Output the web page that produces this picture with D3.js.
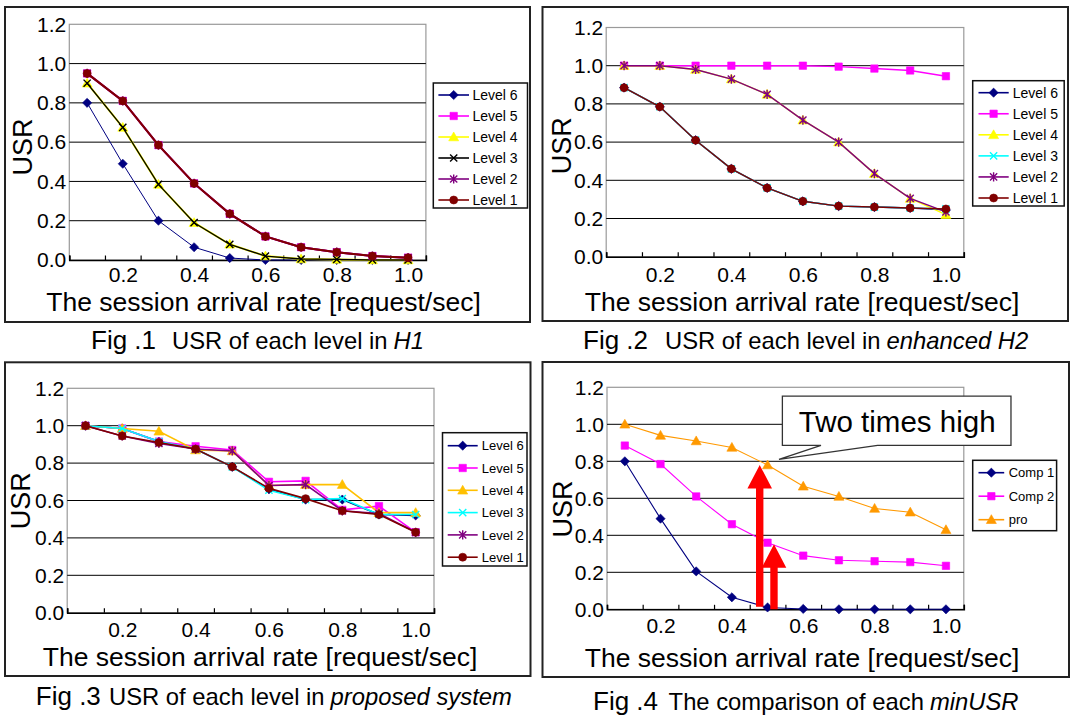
<!DOCTYPE html>
<html lang="en">
<head>
<meta charset="UTF-8">
<title>USR charts</title>
<script src="https://d3js.org/d3.v7.min.js"></script>
<style>
    body { margin: 0; background: #fff; }
    text { font-family: "Liberation Sans", Arial, sans-serif; fill: #000; }
</style>
</head>
<body>
<script>
// categories on the x axis (session arrival rate)
const xValues = [0.1, 0.2, 0.3, 0.4, 0.5, 0.6, 0.7, 0.8, 0.9, 1.0];
const xLabelValues = [0.2, 0.4, 0.6, 0.8, 1.0];
const yTicks = [0, 0.2, 0.4, 0.6, 0.8, 1.0, 1.2];
const levelNames = ["Level 6", "Level 5", "Level 4", "Level 3", "Level 2", "Level 1"];
const compNames = ["Comp 1", "Comp 2", "pro"];

// Fig 1 - H1
const fig1Level6 = [0.80, 0.49, 0.20, 0.065, 0.01, 0.0, 0.0, 0.0, 0.0, 0.0];
const fig1Level5 = [0.95, 0.81, 0.585, 0.39, 0.235, 0.12, 0.065, 0.04, 0.02, 0.012];
const fig1Level4 = [0.90, 0.675, 0.385, 0.19, 0.08, 0.02, 0.005, 0.003, 0.0, 0.0];
const fig1Level3 = [0.90, 0.675, 0.385, 0.19, 0.08, 0.02, 0.005, 0.003, 0.0, 0.0];
const fig1Level2 = [0.95, 0.81, 0.585, 0.39, 0.235, 0.12, 0.065, 0.04, 0.02, 0.012];
const fig1Level1 = [0.95, 0.81, 0.585, 0.39, 0.235, 0.12, 0.065, 0.04, 0.02, 0.012];

// Fig 2 - enhanced H2
const fig2Level6 = [0.885, 0.785, 0.61, 0.46, 0.36, 0.29, 0.265, 0.26, 0.255, 0.245];
const fig2Level5 = [1.0, 1.0, 1.0, 1.0, 1.0, 1.0, 0.995, 0.985, 0.975, 0.945];
const fig2Level4 = [1.0, 1.0, 0.98, 0.93, 0.85, 0.715, 0.60, 0.435, 0.305, 0.22];
const fig2Level3 = [0.885, 0.785, 0.61, 0.46, 0.36, 0.29, 0.265, 0.26, 0.255, 0.25];
const fig2Level2 = [1.0, 1.0, 0.98, 0.93, 0.85, 0.715, 0.60, 0.435, 0.305, 0.235];
const fig2Level1 = [0.885, 0.785, 0.61, 0.46, 0.36, 0.29, 0.265, 0.26, 0.255, 0.25];

// Fig 3 - proposed system
const fig3Level6 = [1.0, 0.985, 0.915, 0.875, 0.78, 0.66, 0.605, 0.605, 0.525, 0.52];
const fig3Level5 = [1.0, 0.985, 0.915, 0.89, 0.87, 0.70, 0.705, 0.55, 0.57, 0.43];
const fig3Level4 = [1.0, 0.985, 0.97, 0.87, 0.865, 0.68, 0.685, 0.685, 0.535, 0.535];
const fig3Level3 = [1.0, 0.985, 0.915, 0.875, 0.78, 0.655, 0.605, 0.61, 0.525, 0.525];
const fig3Level2 = [1.0, 0.945, 0.905, 0.875, 0.865, 0.68, 0.685, 0.545, 0.53, 0.43];
const fig3Level1 = [1.0, 0.945, 0.91, 0.875, 0.78, 0.665, 0.61, 0.545, 0.525, 0.43];

// Fig 4 - minUSR comparison
const fig4Comp1 = [0.80, 0.49, 0.205, 0.065, 0.01, 0.002, 0.0, 0.0, 0.0, 0.0];
const fig4Comp2 = [0.885, 0.785, 0.61, 0.46, 0.36, 0.29, 0.265, 0.26, 0.255, 0.235];
const fig4Pro = [1.0, 0.94, 0.91, 0.875, 0.78, 0.665, 0.61, 0.545, 0.525, 0.43];

// annotations of fig 4 (data units)
const calloutText = "Two times high";
const calloutTip = [0.532, 0.81];
const arrowX = [0.478, 0.518];
const arrowFrom = [0.014, 0.0];
const arrowTo = [0.78, 0.351];

const svg = d3.select("body").append("svg")
    .attr("width", 1072)
    .attr("height", 720);

svg.append("rect").attr("width", 1072).attr("height", 720).attr("fill", "#fff");

function markerPath(type) {
    if (type === "diamond") return "M0,-4.6L4.6,0L0,4.6L-4.6,0Z";
    if (type === "square") return "M-3.7,-3.7h7.4v7.4h-7.4Z";
    if (type === "triangle") return "M0,-5L5,3.8L-5,3.8Z";
    if (type === "x") return "M-3.6,-3.6L3.6,3.6M-3.6,3.6L3.6,-3.6";
    if (type === "asterisk") return "M-3.6,-3.6L3.6,3.6M-3.6,3.6L3.6,-3.6M0,-4.6V4.6";
    // circle
    return "M-4,0a4,4 0 1,0 8,0a4,4 0 1,0 -8,0";
}
const strokeMarkers = ["x", "asterisk"];

function drawMarker(g, type, color, px, py) {
    const filled = !strokeMarkers.includes(type);
    g.append("path")
        .attr("d", markerPath(type))
        .attr("transform", "translate(" + px + "," + py + ")")
        .attr("fill", filled ? color : "none")
        .attr("stroke", color)
        .attr("stroke-width", filled ? 0.6 : 1.4);
}

function drawPanel(p) {
    const g = svg.append("g");

    // outer frame
    g.append("rect")
        .attr("x", p.frame[0]).attr("y", p.frame[1])
        .attr("width", p.frame[2] - p.frame[0])
        .attr("height", p.frame[3] - p.frame[1])
        .attr("fill", "none")
        .attr("stroke", "#222")
        .attr("stroke-width", 2);

    const x = d3.scaleLinear().domain([0.05, 1.05]).range([p.left, p.right]);
    const y = d3.scaleLinear().domain([0, 1.2]).range([p.bottom, p.top]);

    // plot area border
    g.append("rect")
        .attr("x", p.left).attr("y", p.top)
        .attr("width", p.right - p.left)
        .attr("height", p.bottom - p.top)
        .attr("fill", "none")
        .attr("stroke", "#9a9a9a")
        .attr("stroke-width", 1.2);

    // gridlines
    g.selectAll(".grid")
        .data(yTicks.filter(v => v > 0 && v < 1.2))
        .join("line")
        .attr("x1", p.left).attr("x2", p.right)
        .attr("y1", d => y(d)).attr("y2", d => y(d))
        .attr("stroke", "#000")
        .attr("stroke-width", 1);

    // y axis labels
    const yAxis = g.append("g")
        .attr("transform", "translate(" + p.left + ",0)")
        .call(d3.axisLeft(y).tickValues(yTicks).tickSize(0).tickPadding(3).tickFormat(d3.format(".1f")));
    yAxis.select(".domain").remove();
    yAxis.selectAll("text")
        .style("font-family", "'Liberation Sans', Arial, sans-serif")
        .style("font-size", "21px")
        .attr("fill", "#000");

    // category boundary ticks, pointing inward
    const bounds = d3.range(11).map(i => 0.05 + i * 0.1);
    const xTicks = g.append("g")
        .attr("transform", "translate(0," + p.bottom + ")")
        .call(d3.axisBottom(x).tickValues(bounds).tickSize(-4.5).tickFormat(""));
    xTicks.select(".domain").attr("stroke", "#000").attr("stroke-width", 1.6);
    xTicks.selectAll(".tick line").attr("stroke", "#000").attr("stroke-width", 1.2);

    // x axis labels
    const xLab = g.append("g")
        .attr("transform", "translate(0," + p.bottom + ")")
        .call(d3.axisBottom(x).tickValues(xLabelValues).tickSize(0).tickFormat(d3.format(".1f")));
    xLab.select(".domain").remove();
    xLab.selectAll("text")
        .attr("y", p.xlabBase - p.bottom)
        .attr("dy", null)
        .style("font-family", "'Liberation Sans', Arial, sans-serif")
        .style("font-size", "21px")
        .attr("fill", "#000");

    // axis titles
    g.append("text")
        .attr("transform", "translate(" + p.usr[0] + "," + p.usr[1] + ") rotate(-90)")
        .attr("text-anchor", "middle")
        .attr("dy", "0.36em")
        .style("font-size", "27px")
        .text("USR");

    g.append("text")
        .attr("x", p.titleX).attr("y", p.titleBase)
        .attr("text-anchor", "middle")
        .style("font-size", "26.5px")
        .text("The session arrival rate [request/sec]");

    // series
    const line = d3.line()
        .x((d, i) => x(xValues[i]))
        .y(d => y(d));

    p.series.forEach(s => {
        g.append("path")
            .datum(s.values)
            .attr("d", line)
            .attr("fill", "none")
            .attr("stroke", s.color)
            .attr("stroke-width", s.width);
        const mg = g.append("g");
        s.values.forEach((v, i) => drawMarker(mg, s.marker, s.color, x(xValues[i]), y(v)));
    });

    // legend
    const L = p.legend;
    g.append("rect")
        .attr("x", L.x0).attr("y", L.y0)
        .attr("width", L.x1 - L.x0).attr("height", L.y1 - L.y0)
        .attr("fill", "#fff")
        .attr("stroke", "#111")
        .attr("stroke-width", 1.5);
    p.series.forEach((s, i) => {
        const ry = L.row0 + i * L.gap;
        g.append("line")
            .attr("x1", L.lx0).attr("x2", L.lx1)
            .attr("y1", ry).attr("y2", ry)
            .attr("stroke", s.color)
            .attr("stroke-width", 1.6);
        drawMarker(g, s.marker, s.color, (L.lx0 + L.lx1) / 2, ry);
        g.append("text")
            .attr("x", L.tx).attr("y", ry)
            .attr("dy", "0.36em")
            .style("font-size", L.fs + "px")
            .text(s.name);
    });

    // caption
    const cap = g.append("text").attr("y", p.capBase);
    cap.append("tspan").attr("x", p.capX[0]).style("font-size", "26px").text(p.capFig);
    cap.append("tspan").attr("x", p.capX[1]).style("font-size", "23.8px").text(p.capText);
    cap.append("tspan").attr("dx", 6).style("font-size", "23.8px").style("font-style", "italic").text(p.capItalic);

    return { g, x, y };
}

function makeSeries(names, values, styles) {
    return names.map((n, i) => Object.assign({ name: n, values: values[i] }, styles[i]));
}

const navy = { color: "#000080", marker: "diamond" };
const magenta = { color: "#ff00ff", marker: "square" };
const purple = { color: "#800080", marker: "asterisk" };
const darkRed = { color: "#800000", marker: "circle" };

drawPanel({
    frame: [5, 7, 530, 322],
    left: 69.3, right: 425.9, top: 24.3, bottom: 260,
    usr: [22.3, 147], xlabBase: 282, titleX: 263.6, titleBase: 311,
    legend: { x0: 433.3, x1: 527.5, y0: 83, y1: 208, row0: 95, gap: 21, lx0: 438.4, lx1: 469, tx: 472.5, fs: 14 },
    capBase: 349, capX: [91, 172], capFig: "Fig .1", capText: "USR of each level in", capItalic: "H1",
    series: makeSeries(levelNames,
        [fig1Level6, fig1Level5, fig1Level4, fig1Level3, fig1Level2, fig1Level1],
        [Object.assign({ width: 1 }, navy), Object.assign({ width: 2 }, magenta),
         { color: "#ffff00", marker: "triangle", width: 2 }, { color: "#000000", marker: "x", width: 1.3 },
         Object.assign({ width: 2 }, purple), Object.assign({ width: 2 }, darkRed)])
});

drawPanel({
    frame: [542.5, 7, 1068, 321],
    left: 606.2, right: 963.8, top: 27.5, bottom: 256.7,
    usr: [561.5, 145.7], xlabBase: 281.7, titleX: 802, titleBase: 311,
    legend: { x0: 972.7, x1: 1064.2, y0: 80.7, y1: 206, row0: 92.7, gap: 21.06, lx0: 978.5, lx1: 1008.7, tx: 1012.8, fs: 14 },
    capBase: 349, capX: [583, 665], capFig: "Fig .2", capText: "USR of each level in", capItalic: "enhanced H2",
    series: makeSeries(levelNames,
        [fig2Level6, fig2Level5, fig2Level4, fig2Level3, fig2Level2, fig2Level1],
        [Object.assign({ width: 1.4 }, navy), Object.assign({ width: 1.4 }, magenta),
         { color: "#ffff00", marker: "triangle", width: 1.4 }, { color: "#00ffff", marker: "x", width: 1.4 },
         Object.assign({ width: 1.4 }, purple), Object.assign({ width: 1.4 }, darkRed)])
});

drawPanel({
    frame: [5, 362.3, 530.5, 676],
    left: 67.2, right: 434, top: 388.3, bottom: 612.7,
    usr: [20.5, 500.8], xlabBase: 636.7, titleX: 260, titleBase: 666,
    legend: { x0: 442.5, x1: 527, y0: 432.7, y1: 566, row0: 445.7, gap: 22.3, lx0: 447.7, lx1: 477.7, tx: 481.8, fs: 13 },
    capBase: 705, capX: [35.8, 109], capFig: "Fig .3", capText: "USR of each level in", capItalic: "proposed system",
    series: makeSeries(levelNames,
        [fig3Level6, fig3Level5, fig3Level4, fig3Level3, fig3Level2, fig3Level1],
        [Object.assign({ width: 1.6 }, navy), Object.assign({ width: 1.6 }, magenta),
         { color: "#ffc000", marker: "triangle", width: 1.6 }, { color: "#00ffff", marker: "x", width: 1.6 },
         Object.assign({ width: 1.6 }, purple), Object.assign({ width: 1.6 }, darkRed)])
});

const p4 = drawPanel({
    frame: [542.5, 362, 1069, 677],
    left: 607, right: 963.8, top: 387.3, bottom: 609.3,
    usr: [562, 509], xlabBase: 633, titleX: 802, titleBase: 666.7,
    legend: { x0: 972.7, x1: 1056.6, y0: 460.3, y1: 530.7, row0: 472.7, gap: 23.5, lx0: 978.5, lx1: 1004.2, tx: 1008.7, fs: 13 },
    capBase: 710, capX: [593, 668.6], capFig: "Fig .4", capText: "The comparison of each", capItalic: "minUSR",
    series: makeSeries(compNames,
        [fig4Comp1, fig4Comp2, fig4Pro],
        [Object.assign({ width: 1.1 }, navy), Object.assign({ width: 1.1 }, magenta),
         { color: "#ff9900", marker: "triangle", width: 1.1 }])
});

// callout box with pointer
const tipX = p4.x(calloutTip[0]), tipY = p4.y(calloutTip[1]);
const bx0 = tipX + 3.4, bx1 = tipX + 232, by0 = tipY - 63.3, by1 = tipY - 14;
p4.g.append("path")
    .attr("d", "M" + bx0 + "," + by0 + "H" + bx1 + "V" + by1 + "H" + (tipX + 98.6) +
        "L" + tipX + "," + tipY + "L" + (tipX + 42) + "," + by1 + "H" + bx0 + "Z")
    .attr("fill", "#fff")
    .attr("stroke", "#333")
    .attr("stroke-width", 1.3);
p4.g.append("text")
    .attr("x", (bx0 + bx1) / 2 + 0.5)
    .attr("y", by1 - 13.5)
    .attr("text-anchor", "middle")
    .style("font-size", "29.5px")
    .text(calloutText);

// red arrows
arrowX.forEach((ax, i) => {
    const cx = p4.x(ax), yb = p4.y(arrowFrom[i]), yt = p4.y(arrowTo[i]);
    const sw = 3.7, hw = 12.3, hl = 23.5;
    p4.g.append("path")
        .attr("d", "M" + (cx - sw) + "," + yb + "V" + (yt + hl) + "H" + (cx - hw) +
            "L" + cx + "," + yt + "L" + (cx + hw) + "," + (yt + hl) + "H" + (cx + sw) + "V" + yb + "Z")
        .attr("fill", "#ff0000");
});
</script>
</body>
</html>
